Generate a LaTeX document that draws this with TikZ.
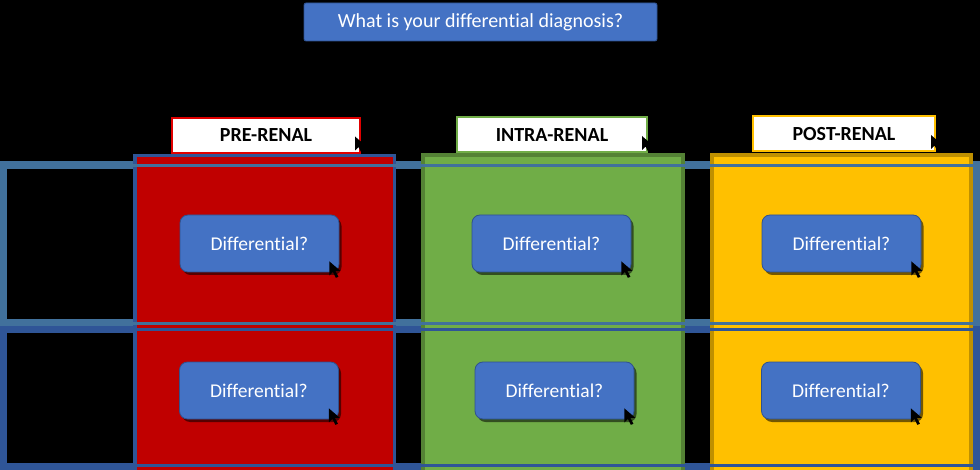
\documentclass[tikz,border=0pt]{standalone}
\usepackage{fontspec}
\setmainfont{Carlito}[Ligatures=NoCommon]
\usetikzlibrary{calc,shadows}
\definecolor{rowlight}{HTML}{41719C}
\definecolor{rowdark}{HTML}{2F5597}
\definecolor{redfill}{HTML}{C00000}
\definecolor{labred}{HTML}{E00000}
\definecolor{greenfill}{HTML}{70AD47}
\definecolor{greenedge}{HTML}{548235}
\definecolor{yellowfill}{HTML}{FFC000}
\definecolor{yellowedge}{HTML}{BF9000}
\definecolor{boxblue}{HTML}{4472C4}
\definecolor{boxedge}{HTML}{2F528F}
\newcommand\mycurs[1]{\fill[black] (#1) -- ++(0,14) -- ++(3.5,-3.5) -- ++(3,6) -- ++(2.5,-1.2) -- ++(-3,-5.8) -- ++(5,0) -- cycle;}
\begin{document}
\begin{tikzpicture}[x=1pt,y=-1pt,
  labbox/.style={draw, fill=white, line width=2pt, inner sep=0pt, text=black,
    font=\bfseries\fontsize{20}{23}\selectfont},
  diffbox/.style={draw=boxedge, fill=boxblue, line width=0.8pt, rounded corners=8pt,
    minimum width=159pt, minimum height=57pt, inner sep=0pt, text=white,
    font=\fontsize{19.5}{23}\selectfont,
    drop shadow={shadow xshift=2.5pt, shadow yshift=-3pt, opacity=0.55, fill=black}},
  titlebox/.style={draw=boxedge, fill=boxblue, line width=0.8pt, rounded corners=2pt,
    minimum width=353pt, minimum height=38pt, inner sep=0pt, text=white,
    font=\fontsize{20}{23}\selectfont},
  rowbandL/.style={rowlight, line width=8pt},
  rowbandD/.style={rowdark, line width=7pt},
  thinL/.style={rowlight, line width=3pt},
  thinD/.style={rowdark, line width=3pt}]
\fill[black] (0,0) rectangle (980,470);
\useasboundingbox (0,0) rectangle (980,470);
% row frames
\draw[rowbandL] (3,165.5) rectangle (976,323);
\draw[rowbandD] (3,330) rectangle (976,466.5);
% columns
\draw[fill=redfill, draw=rowdark, line width=3.5pt] (135,155.5) rectangle (394.5,476);
\draw[fill=greenfill, draw=greenedge, line width=4pt] (423,155) rectangle (683,476);
\draw[fill=yellowfill, draw=yellowedge, line width=4pt] (712,155) rectangle (971,476);
% row lines over columns
\draw[thinL] (0,165.5) -- (980,165.5);
\draw[thinL] (0,323.5) -- (980,323.5);
\draw[thinD] (0,329.5) -- (980,329.5);
\draw[thinD] (0,465.5) -- (980,465.5);
% title
\node[titlebox] (title) at (480.5,22) {What is your differential diagnosis?};
% labels
\node[labbox, draw=labred, minimum width=188pt, minimum height=35pt] (pre) at (266,135.5) {PRE-RENAL};
\node[labbox, draw=greenfill, minimum width=190pt, minimum height=35pt] (intra) at (552,135) {INTRA-RENAL};
\node[labbox, draw=yellowfill, minimum width=182pt, minimum height=35pt] (post) at (844,134) {POST-RENAL};
% differential boxes
\node[diffbox] (d11) at (259.5,243.5) {Differential?};
\node[diffbox] (d12) at (551.5,243.5) {Differential?};
\node[diffbox] (d13) at (841.5,243.5) {Differential?};
\node[diffbox] (d21) at (259,390.5) {Differential?};
\node[diffbox] (d22) at (554.5,390.5) {Differential?};
\node[diffbox] (d23) at (841,390.5) {Differential?};
% cursors
\foreach \n in {d11,d12,d13,d21,d22,d23}{
  \coordinate (c\n) at ($(\n.south east)+(-10,-11)$);
  \mycurs{c\n}
}
\coordinate (cpre) at ($(pre.east)+(-6,1)$);
\mycurs{cpre}
\coordinate (cintra) at ($(intra.east)+(-6,1)$);
\mycurs{cintra}
\coordinate (cpost) at ($(post.east)+(-5,1)$);
\mycurs{cpost}
\end{tikzpicture}
\end{document}
